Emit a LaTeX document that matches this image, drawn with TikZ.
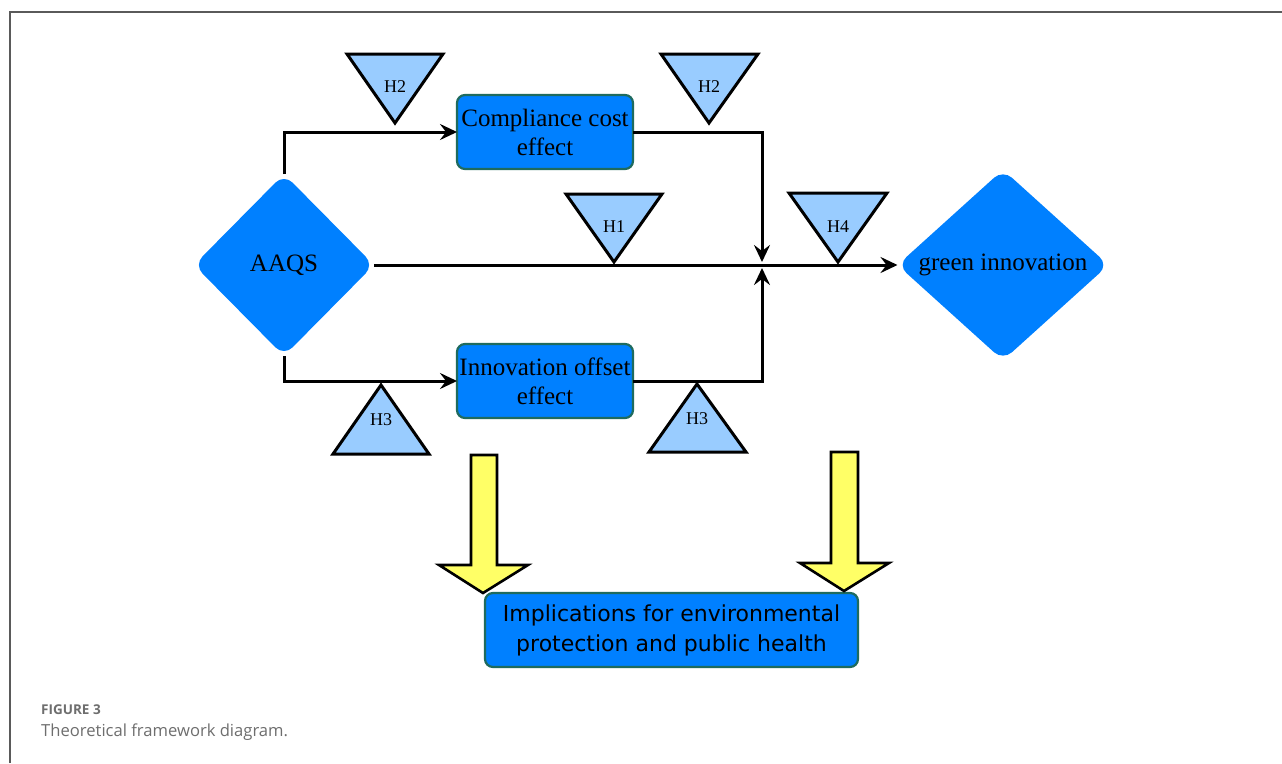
\documentclass[tikz,border=0pt]{standalone}
\usepackage{fontspec}
\setmainfont{Liberation Serif}
\newfontfamily\implfont{DejaVu Sans}
\newfontfamily\capfont{Open Sans}
\usetikzlibrary{shapes.geometric,arrows.meta}
\definecolor{boxblue}{HTML}{0080FF}
\definecolor{boxedge}{HTML}{1F6B5E}
\definecolor{triblue}{HTML}{99CCFF}
\definecolor{yel}{HTML}{FFFF66}
\definecolor{framegray}{HTML}{5A5A5A}
\definecolor{capgray}{HTML}{6E6E6E}
\begin{document}
\begin{tikzpicture}[x=1pt,y=-1pt,
  dia/.style={diamond, fill=boxblue, rounded corners=12pt, inner sep=0pt, outer sep=0pt, aspect=1,
    font=\fontsize{25}{29}\selectfont},
  effbox/.style={rectangle, rounded corners=8pt, fill=boxblue, draw=boxedge, line width=2.2pt,
    minimum width=176pt, minimum height=74pt, inner sep=0pt, outer sep=0pt, align=center,
    font=\fontsize{25}{29}\selectfont},
  tri/.style={draw=black, fill=triblue, line width=3pt, line join=miter},
  hlab/.style={font=\fontsize{18}{20}\selectfont, inner sep=0pt},
  conn/.style={draw=black, line width=3pt, -{Stealth[length=17pt,width=16pt,inset=6pt]}},
  yarrow/.style={draw=black, fill=yel, line width=2.6pt, line join=miter}
]
\useasboundingbox (0,0) rectangle (1282,763);
\fill[white] (0,0) rectangle (1282,763);
% frame
\draw[framegray, line width=1.6pt] (10,763) -- (10,12) -- (1282,12);

% nodes
\node[dia, minimum width=180pt, minimum height=182pt] (aaqs) at (284,265) {AAQS};
\node[dia, minimum width=211pt, minimum height=182pt] (green) at (1003,265) {green innovation};
\node[effbox] (comp) at (545,132) {Compliance cost\\effect};
\node[effbox] (innov) at (545,381) {Innovation offset\\effect};
\node[effbox, minimum width=373pt, font=\implfont\fontsize{22}{30}\selectfont] (impl) at (671.5,630)
  {Implications for environmental\\protection and public health};

% triangles with labels
\draw[tri] (347,54) -- (443,54) -- (395,123) -- cycle;
\node[hlab] (h2a) at (395,87) {H2};
\draw[tri] (661,54) -- (758,54) -- (709,123) -- cycle;
\node[hlab] (h2b) at (709,87) {H2};
\draw[tri] (566,194) -- (662,194) -- (614,262) -- cycle;
\node[hlab] (h1) at (614,227) {H1};
\draw[tri] (789,193) -- (887,193) -- (838,262) -- cycle;
\node[hlab] (h4) at (838,227) {H4};
\draw[tri] (333,454) -- (429,454) -- (381,385) -- cycle;
\node[hlab] (h3a) at (381,420) {H3};
\draw[tri] (649,452) -- (746,452) -- (697,384) -- cycle;
\node[hlab] (h3b) at (697,419) {H3};

% connectors
\coordinate (jdown) at (762,262);
\coordinate (jup) at (762,268);
\draw[conn] (aaqs.north) |- (comp.west);
\draw[conn] (aaqs.south) |- (innov.west);
\draw[conn] (aaqs.east) -- (green.west);
\draw[conn] (comp.east) -| (jdown);
\draw[conn] (innov.east) -| (jup);

% yellow block arrows
\draw[yarrow] (471,455) -- (497,455) -- (497,565) -- (528,565) -- (483,593) -- (439,565) -- (471,565) -- cycle;
\draw[yarrow] (831,452) -- (858,452) -- (858,563) -- (889,563) -- (844,591) -- (800,563) -- (831,563) -- cycle;

% caption
\node[anchor=base west, inner sep=0pt, text=capgray, font=\capfont\bfseries\fontsize{13.5}{15}\selectfont] (fig) at (41,714) {FIGURE 3};
\node[anchor=base west, inner sep=0pt, text=capgray, font=\capfont\fontsize{16.6}{19}\selectfont] (cap) at (41,736) {Theoretical framework diagram.};
\end{tikzpicture}
\end{document}
